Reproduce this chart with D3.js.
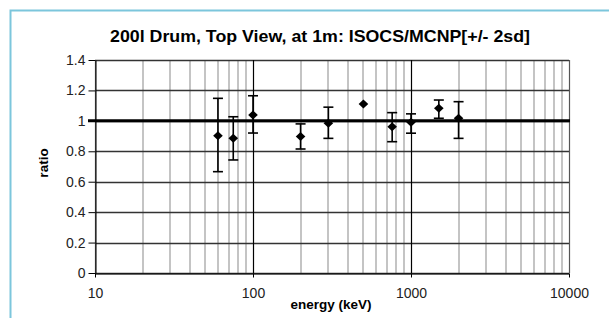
<!DOCTYPE html>
<html><head><meta charset="utf-8">
<script src="https://cdn.jsdelivr.net/npm/d3@7"></script>
<style>body{margin:0;background:#fff}svg{display:block}</style>
</head><body>
<script>
const energies = [60, 75, 100, 200, 300, 500, 760, 1000, 1500, 2000];
const ratios   = [0.902, 0.885, 1.039, 0.897, 0.984, 1.111, 0.962, 0.991, 1.083, 1.017];
const lowers   = [0.666, 0.743, 0.920, 0.815, 0.885, 1.111, 0.863, 0.919, 1.017, 0.885];
const uppers   = [1.148, 1.027, 1.165, 0.980, 1.090, 1.111, 1.054, 1.046, 1.137, 1.126];
const yTicks = [0, 0.2, 0.4, 0.6, 0.8, 1, 1.2, 1.4];
const xTicks = [10, 100, 1000, 10000];
const title = "200l Drum, Top View, at 1m: ISOCS/MCNP[+/- 2sd]";

const W = 609, H = 318;
const m = {l: 95, r: 569, t: 60, b: 273};
const FONT = "Liberation Sans, Arial, sans-serif";
const svg = d3.select("body").append("svg").attr("width", W).attr("height", H);
svg.append("rect").attr("width", W).attr("height", H).attr("fill", "#fff");
svg.append("path").attr("d", `M10.5,${H} V10.5 H${W}`).attr("fill", "none")
  .attr("stroke", "#7cc6dc").attr("stroke-width", 2);

const x = d3.scaleLog().domain([10, 10000]).range([m.l, m.r]);
const y = d3.scaleLinear().domain([0, 1.4]).range([m.b, m.t]);

const minor = [];
for (let d = 10; d < 10000; d *= 10) for (let k = 2; k <= 9; k++) minor.push(d * k);
svg.append("g").selectAll("line").data(minor).join("line")
  .attr("x1", d => Math.round(x(d))).attr("x2", d => Math.round(x(d)))
  .attr("y1", m.t).attr("y2", m.b).attr("stroke", "#c4c4c4").attr("stroke-width", 2);
svg.append("g").selectAll("line").data(yTicks).join("line")
  .attr("x1", m.l).attr("x2", m.r)
  .attr("y1", d => Math.round(y(d)) + 0.5).attr("y2", d => Math.round(y(d)) + 0.5)
  .attr("stroke", "#333").attr("stroke-width", 1.3);
svg.append("g").selectAll("line").data(xTicks).join("line")
  .attr("x1", d => Math.round(x(d)) + 0.5).attr("x2", d => Math.round(x(d)) + 0.5)
  .attr("y1", m.t).attr("y2", m.b).attr("stroke", d => (d === 10 || d === 10000) ? "#555" : "#000").attr("stroke-width", 1.2);

const yAxis = d3.axisLeft(y).tickValues(yTicks).tickSize(7).tickSizeOuter(0).tickPadding(3)
  .tickFormat(d => d === 0 || d === 1 ? String(d) : d3.format(".1f")(d));
const gy = svg.append("g").attr("transform", `translate(${m.l + 0.5},0)`).call(yAxis);
gy.select(".domain").attr("stroke", "#000");
gy.selectAll("line").attr("stroke", "#000");
gy.selectAll("text").attr("font-family", FONT).attr("font-size", 14).attr("fill", "#222");

const xAxis = d3.axisBottom(x).tickValues(xTicks).tickSize(4).tickSizeOuter(0).tickPadding(11)
  .tickFormat(d3.format("d"));
const gx = svg.append("g").attr("transform", `translate(0,${m.b + 0.5})`).call(xAxis);
gx.select(".domain").attr("stroke", "#000");
gx.selectAll("line").attr("stroke", "#000");
gx.selectAll("text").attr("font-family", FONT).attr("font-size", 14).attr("fill", "#222");

svg.append("line").attr("x1", m.l - 7).attr("x2", m.r + 1)
  .attr("y1", y(1)).attr("y2", y(1)).attr("stroke", "#000").attr("stroke-width", 3);

const data = energies.map((e, i) => ({e, r: ratios[i], lo: lowers[i], hi: uppers[i]}));
const eb = svg.append("g").selectAll("g").data(data.filter(d => d.hi - d.lo > 0.01)).join("g");
eb.append("line").attr("x1", d => x(d.e)).attr("x2", d => x(d.e))
  .attr("y1", d => y(d.lo)).attr("y2", d => y(d.hi)).attr("stroke", "#000").attr("stroke-width", 1.6);
eb.append("line").attr("x1", d => x(d.e) - 5).attr("x2", d => x(d.e) + 5)
  .attr("y1", d => y(d.lo)).attr("y2", d => y(d.lo)).attr("stroke", "#000").attr("stroke-width", 1.6);
eb.append("line").attr("x1", d => x(d.e) - 5).attr("x2", d => x(d.e) + 5)
  .attr("y1", d => y(d.hi)).attr("y2", d => y(d.hi)).attr("stroke", "#000").attr("stroke-width", 1.6);
svg.append("g").selectAll("path").data(data).join("path")
  .attr("transform", d => `translate(${x(d.e)},${y(d.r)})`)
  .attr("d", "M0,-4.5 L4.8,0 L0,4.5 L-4.8,0 Z").attr("fill", "#000");

svg.append("text").attr("x", 320).attr("y", 42).attr("text-anchor", "middle")
  .attr("font-family", FONT).attr("font-weight", "bold").attr("font-size", 16.5)
  .attr("textLength", 420).attr("lengthAdjust", "spacingAndGlyphs")
  .text(title);
svg.append("text").attr("x", 331).attr("y", 309).attr("text-anchor", "middle")
  .attr("font-family", FONT).attr("font-weight", "bold").attr("font-size", 13.5)
  .text("energy (keV)");
svg.append("text").attr("transform", `translate(48,163) rotate(-90)`).attr("text-anchor", "middle")
  .attr("font-family", FONT).attr("font-weight", "bold").attr("font-size", 13.5)
  .text("ratio");
</script>
</body></html>
